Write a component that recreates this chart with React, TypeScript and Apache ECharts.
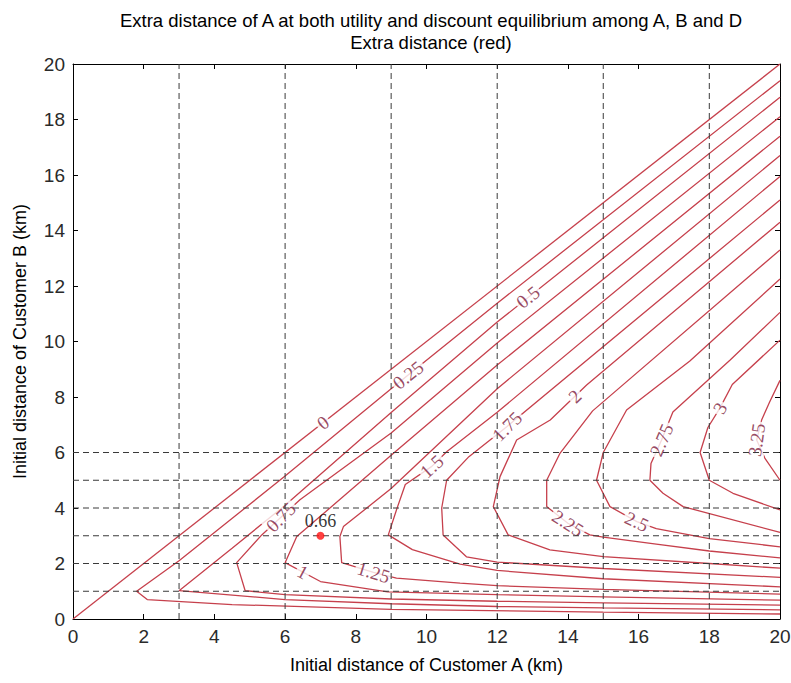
import React, { useEffect, useRef } from "react";
import * as echarts from "echarts";

// ---- data ----
const titleLines = [
  "Extra distance of A at both utility and discount equilibrium among A, B and D",
  "Extra distance (red)",
];
const xName = "Initial distance of Customer A (km)";
const yName = "Initial distance of Customer B (km)";

const vGridX = [3, 6, 9, 12, 15, 18];
const hGridY = [1, 2, 3, 4, 5, 6];

const levelNames = ["0", "0.25", "0.5", "0.75", "1", "1.25", "1.5", "1.75", "2", "2.25", "2.5", "2.75", "3", "3.25"];

const contour000 = [[0, 0], [20, 20]];
const contour025 = [[20, 0.18], [15, 0.25], [9, 0.35], [4.5, 0.52], [2.1, 0.7], [1.8, 1.0], [3, 2.1], [6, 5.15], [9, 8.3], [12, 11.38], [20, 19.4]];
const contour050 = [[20, 0.33], [15, 0.4], [12, 0.45], [9, 0.55], [6, 0.7], [3, 1.02], [4.5, 2.55], [6, 4.1], [9, 7.44], [12, 10.7], [20, 18.8]];
const contour075 = [[20, 0.5], [15, 0.58], [12, 0.64], [9, 0.72], [6, 0.88], [4.87, 1.02], [4.63, 2.03], [5.34, 3.03], [6.42, 4.3], [9, 6.7], [12, 9.95], [20, 18.1]];
const contour100 = [[20, 0.68], [15, 0.8], [12, 0.88], [8.9, 0.98], [7, 1.35], [6, 2.03], [6.33, 2.97], [9, 5.9], [12, 9.15], [20, 17.4]];
const contour125 = [[20, 0.9], [15, 1.07], [12, 1.2], [10.95, 1.29], [9.15, 1.47], [8.5, 1.68], [7.6, 2.03], [7.55, 2.97], [7.65, 3.33], [9, 4.7], [12, 8.3], [20, 16.7]];
const contour150 = [[20, 1.16], [15, 1.45], [12, 1.75], [10.95, 1.98], [9.6, 2.5], [8.92, 3.03], [9.15, 3.93], [9.4, 4.85], [10.15, 5.5], [10.57, 6.03], [12, 7.45], [20, 15.95]];
const contour175 = [[20, 1.5], [15, 1.82], [12, 2.05], [11.13, 2.24], [10.47, 3.03], [10.43, 4.0], [10.57, 5.0], [11.2, 5.85], [12.28, 6.94], [20, 15.1]];
const contour200 = [[20, 1.83], [18, 2.0], [15, 2.25], [13.49, 2.49], [12.31, 3.03], [11.89, 4.05], [12.08, 5.13], [12.55, 6.45], [13.5, 7.17], [14.53, 8.43], [20, 14.3]];
const contour225 = [[20, 2.2], [18, 2.45], [16.5, 2.7], [15, 2.95], [14.62, 3.03], [14.0, 3.45], [13.4, 4.05], [13.4, 5.0], [13.78, 5.98], [14.7, 7.5], [20, 13.3]];
const contour250 = [[20, 2.6], [18, 2.9], [16.5, 3.26], [15.95, 3.51], [15.19, 4.05], [14.81, 5.0], [15.0, 6.0], [15.66, 7.53], [17.45, 9.3], [20, 12.25]];
const contour275 = [[20, 3.12], [17.26, 4.05], [16.69, 4.53], [16.32, 5.0], [16.35, 5.6], [16.65, 6.45], [16.97, 7.46], [18.59, 9.33], [20, 11.05]];
const contour300 = [[20, 3.93], [18.67, 4.53], [18.0, 5.0], [17.74, 6.0], [17.96, 6.9], [18.3, 7.6], [18.65, 8.45], [20, 10.05]];
const contour325 = [[20, 8.6], [19.7, 7.8], [19.48, 7.17], [19.34, 6.45], [19.57, 5.8], [20, 5.0]];

const contours = [contour000, contour025, contour050, contour075, contour100, contour125, contour150, contour175, contour200, contour225, contour250, contour275, contour300, contour325];

const labelX = [7.07, 9.48, 12.87, 5.88, 6.5, 8.5, 10.15, 12.28, 14.2, 14.0, 15.95, 16.65, 18.3, 19.34];
const labelY = [7.07, 8.79, 11.6, 3.67, 1.69, 1.68, 5.5, 6.94, 8.03, 3.45, 3.51, 6.45, 7.6, 6.45];
const labelRotate = [38, 39, 39, 45, -28, -17, 42, 45, 44, -33, -25, 67, 60, 82];

const markedPoint = [7, 3];
const markedValue = "0.66";

// ---- styles ----
const SANS = "Liberation Sans, Arial, sans-serif";
const SERIF = "Liberation Serif, Times New Roman, serif";
const LINE_RED = "#c6404c";
const LABEL_RED = "#7e1a3c";

function buildOption() {
  const series: any[] = [];

  contours.forEach((pts, i) => {
    series.push({
      type: "line",
      name: "c" + levelNames[i],
      data: pts,
      showSymbol: false,
      symbol: "none",
      smooth: false,
      silent: true,
      z: 2,
      lineStyle: { color: LINE_RED, width: 1.3 },
    });
  });

  series.push({
    type: "scatter",
    silent: true,
    z: 3,
    symbolSize: 0,
    data: levelNames.map((t, i) => ({
      value: [labelX[i], labelY[i]],
      label: { formatter: t, rotate: labelRotate[i] },
    })),
    label: {
      show: true,
      position: "inside",
      fontFamily: SERIF,
      fontSize: 19,
      color: LABEL_RED,
      backgroundColor: "#fff",
      padding: [0, 2],
    },
  });

  vGridX.forEach((x) => {
    series.push({
      type: "line",
      data: [[x, 0], [x, 20]],
      showSymbol: false,
      symbol: "none",
      silent: true,
      z: 4,
      lineStyle: { color: "#3a3a3a", width: 1, type: [6, 4] },
    });
  });
  hGridY.forEach((y) => {
    series.push({
      type: "line",
      data: [[0, y], [20, y]],
      showSymbol: false,
      symbol: "none",
      silent: true,
      z: 4,
      lineStyle: { color: "#3a3a3a", width: 1, type: [6, 4] },
    });
  });

  series.push({
    type: "scatter",
    silent: true,
    z: 5,
    symbolSize: 8,
    itemStyle: { color: "#ff1010" },
    data: [markedPoint],
    label: {
      show: true,
      position: "top",
      distance: 2,
      formatter: markedValue,
      fontFamily: SERIF,
      fontSize: 18,
      color: "#000",
    },
  });

  const axisCommon = {
    type: "value",
    min: 0,
    max: 20,
    interval: 2,
    axisLine: { show: true, onZero: false, lineStyle: { color: "#000", width: 1 } },
    axisTick: { show: true, inside: true, length: 5, lineStyle: { color: "#000" } },
    splitLine: { show: false },
  };

  return {
    animation: false,
    backgroundColor: "#fff",
    title: {
      text: titleLines.join("\n"),
      left: 426,
      textAlign: "center",
      top: 4,
      textStyle: { fontFamily: SANS, fontSize: 18.5, fontWeight: "normal", color: "#000", lineHeight: 22 },
    },
    grid: { left: 73, right: 11, top: 64, bottom: 64, containLabel: false, outerBoundsMode: "none" },
    xAxis: [
      {
        ...axisCommon,
        position: "bottom",
        axisLabel: { fontFamily: SANS, fontSize: 19, color: "#2a2a2a", margin: 8 },
        name: xName,
        nameLocation: "middle",
        nameGap: 37,
        nameTextStyle: { fontFamily: SANS, fontSize: 18, color: "#000" },
      },
      { ...axisCommon, position: "top", axisLabel: { show: false } },
    ],
    yAxis: [
      {
        ...axisCommon,
        position: "left",
        axisLabel: { fontFamily: SANS, fontSize: 19, color: "#2a2a2a", margin: 8 },
        name: yName,
        nameLocation: "middle",
        nameGap: 44,
        nameTextStyle: { fontFamily: SANS, fontSize: 18, color: "#000" },
      },
      { ...axisCommon, position: "right", axisLabel: { show: false } },
    ],
    series,
  };
}

export default function App() {
  const ref = useRef<HTMLDivElement>(null);
  useEffect(() => {
    const chart = echarts.init(ref.current!, null, { renderer: "svg" });
    chart.setOption(buildOption() as any);
    return () => chart.dispose();
  }, []);
  return (
    <div
      ref={ref}
      style={{ position: "fixed", left: 0, top: 0, width: 791, height: 683, background: "#fff" }}
    />
  );
}
